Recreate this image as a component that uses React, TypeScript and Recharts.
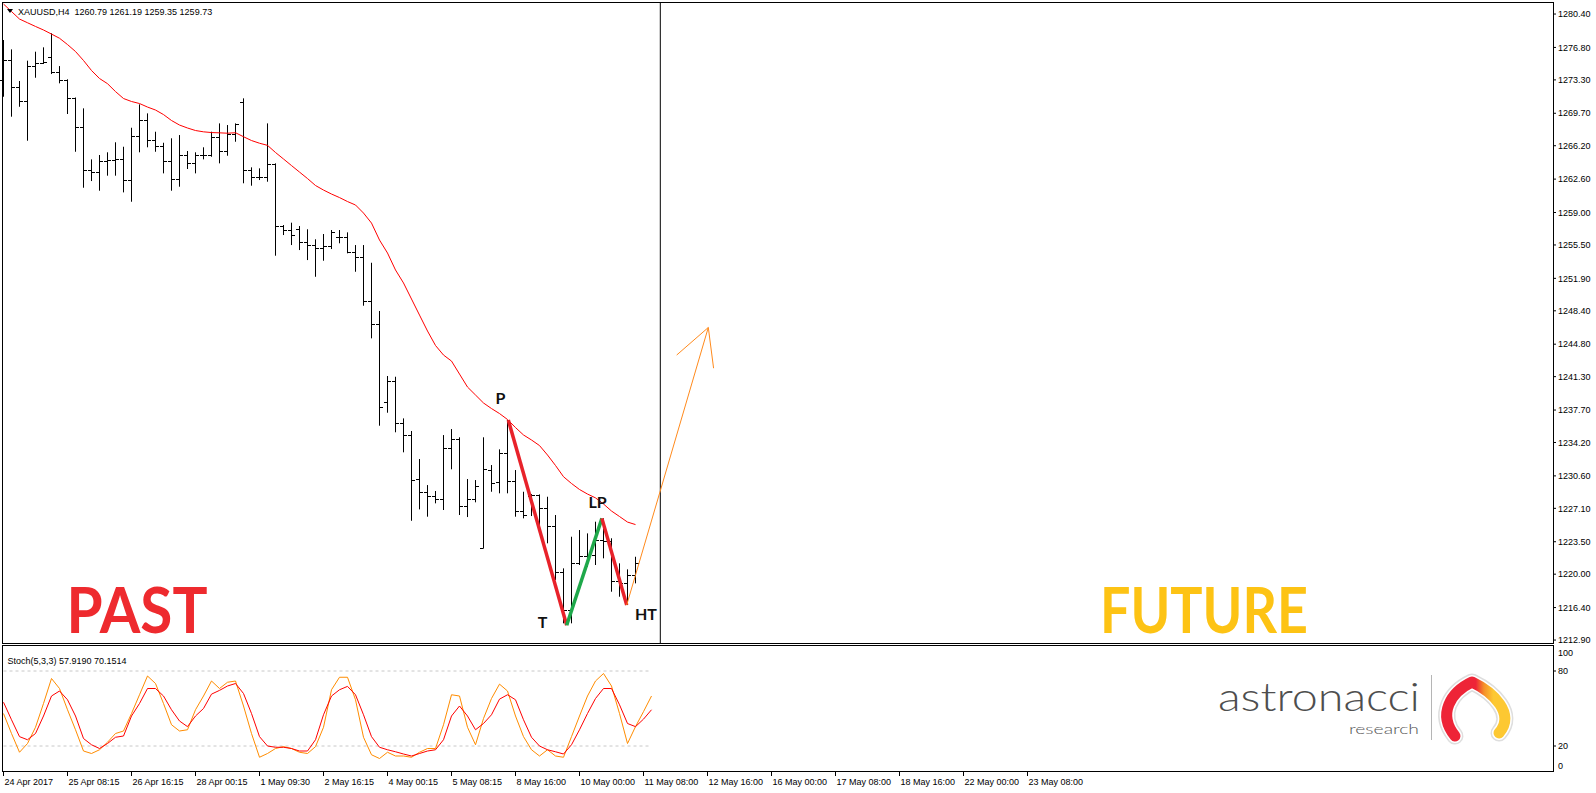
import React from "react";
import {
  ComposedChart,
  Scatter,
  XAxis,
  YAxis,
  ErrorBar,
  ReferenceLine,
} from "recharts";

// ---- data (XAUUSD H4) ----
const opens = [
  1273.28, 1275.44, 1272.5, 1271.02, 1274.79, 1275.08, 1275.73, 1274.07, 1273.28, 1271.31,
  1268.18, 1263.58, 1263.33, 1264.52, 1264.58, 1264.73, 1262.47, 1267.21, 1268.97, 1266.81,
  1266.17, 1264.47, 1262.58, 1265.12, 1264.3, 1265.16, 1265.12, 1267.11, 1265.55, 1267.46,
  1270.88, 1263.58, 1262.79, 1262.82, 1264.19, 1257.54, 1257.11, 1257.19, 1255.78, 1255.49,
  1255.14, 1255.38, 1256.32, 1256.32, 1254.71, 1254.17, 1249.45, 1246.94, 1238.53, 1240.75,
  1236.27, 1234.93, 1230.26, 1228.83, 1228.35, 1228.1, 1233.57, 1234.54, 1227.35, 1228.07,
  1222.82, 1231.23, 1229.86, 1232.96, 1229.97, 1226.74, 1228.43, 1228.5, 1227.03, 1225.19,
  1220.16, 1216.13, 1221.17, 1221.96, 1221.99, 1223.68, 1223.5, 1219.19, 1219.01, 1219.91,
];
const highs = [
  1277.6, 1276.59, 1273.18, 1275.37, 1276.34, 1276.81, 1278.32, 1274.79, 1273.36, 1271.4,
  1270.23, 1264.73, 1265.2, 1265.49, 1266.57, 1266.09, 1268.14, 1270.66, 1269.69, 1267.71,
  1266.52, 1267.0, 1267.35, 1265.63, 1265.49, 1266.03, 1267.71, 1268.61, 1268.43, 1268.61,
  1271.31, 1263.87, 1263.76, 1268.61, 1264.3, 1257.65, 1257.9, 1257.54, 1257.19, 1256.11,
  1256.68, 1257.11, 1257.11, 1256.86, 1255.49, 1255.49, 1253.58, 1248.38, 1241.37, 1241.29,
  1236.8, 1235.44, 1232.42, 1229.61, 1228.97, 1235.0, 1235.65, 1234.76, 1230.26, 1230.15,
  1234.76, 1231.77, 1233.46, 1236.62, 1231.23, 1228.89, 1228.64, 1228.6, 1228.35, 1226.38,
  1220.63, 1224.04, 1224.76, 1224.4, 1225.66, 1226.02, 1223.87, 1221.17, 1220.52, 1221.88,
];
const lows = [
  1271.48, 1269.33, 1270.4, 1266.74, 1273.53, 1275.01, 1273.93, 1272.93, 1269.62, 1265.55,
  1261.67, 1262.39, 1261.35, 1262.97, 1262.97, 1261.17, 1260.16, 1265.49, 1266.03, 1265.55,
  1263.22, 1261.35, 1261.78, 1263.69, 1263.22, 1264.73, 1265.01, 1264.3, 1265.12, 1266.63,
  1262.15, 1261.89, 1262.5, 1262.32, 1254.34, 1256.57, 1255.49, 1254.95, 1253.87, 1252.07,
  1253.8, 1255.06, 1255.68, 1254.6, 1252.61, 1248.95, 1245.43, 1236.01, 1237.41, 1235.3,
  1233.14, 1225.76, 1226.99, 1226.2, 1227.64, 1226.92, 1231.31, 1226.38, 1226.16, 1227.75,
  1222.79, 1228.89, 1228.72, 1228.72, 1226.2, 1226.02, 1226.27, 1224.94, 1223.33, 1219.37,
  1214.7, 1214.7, 1220.99, 1220.8, 1220.99, 1221.71, 1218.11, 1217.57, 1216.67, 1219.01,
];
const closes = [
  1275.44, 1272.5, 1271.02, 1274.79, 1275.08, 1275.15, 1274.07, 1273.28, 1271.31, 1268.18,
  1263.5, 1263.33, 1264.52, 1264.58, 1264.73, 1262.47, 1267.21, 1268.97, 1266.81, 1266.17,
  1264.47, 1262.58, 1265.12, 1264.3, 1265.16, 1265.12, 1267.11, 1265.55, 1267.46, 1268.51,
  1263.58, 1262.79, 1262.82, 1264.19, 1257.54, 1257.11, 1256.54, 1255.78, 1255.42, 1255.14,
  1255.38, 1256.86, 1256.32, 1254.71, 1254.17, 1249.45, 1246.94, 1237.99, 1240.75, 1236.27,
  1234.93, 1230.15, 1228.83, 1228.35, 1228.1, 1233.57, 1234.54, 1227.35, 1228.07, 1229.43,
  1231.31, 1229.8, 1232.96, 1229.97, 1226.74, 1226.38, 1228.5, 1227.03, 1225.19, 1220.16,
  1216.13, 1221.17, 1221.96, 1221.99, 1223.68, 1223.5, 1219.19, 1219.01, 1219.91, 1221.2,
];
// red moving average
const maValues = [
  1281.48, 1280.67, 1279.86, 1279.46, 1279.06, 1278.68, 1278.24, 1277.79, 1277.11, 1276.36,
  1275.39, 1274.31, 1273.45, 1272.89, 1272.04, 1271.29, 1270.97, 1270.75, 1270.37, 1270.05,
  1269.56, 1268.92, 1268.43, 1268.11, 1267.84, 1267.7, 1267.62, 1267.59, 1267.55, 1267.6,
  1267.17, 1266.76, 1266.47, 1266.24, 1265.47, 1264.77, 1264.06, 1263.36, 1262.66, 1261.91,
  1261.42, 1260.99, 1260.61, 1260.18, 1259.81, 1258.94, 1257.86, 1256.03, 1254.63, 1252.8,
  1251.4, 1249.67, 1247.94, 1246.22, 1244.66, 1243.63, 1242.98, 1241.58, 1240.18, 1239.32,
  1238.46, 1237.86, 1237.32, 1236.68, 1235.81, 1235.01, 1234.47, 1233.87, 1232.85, 1231.72,
  1230.51, 1229.78, 1229.13, 1228.64, 1228.23, 1227.57, 1226.81, 1226.22, 1225.62, 1225.35,
];
// Stoch(5,3,3): orange main line, red signal line
const stochMain = [
  46, 30, 15, 22, 35, 54, 74, 66, 49, 33,
  16, 14, 17, 23, 30, 32, 46, 61, 76, 70,
  54, 37, 32, 33, 49, 60, 72, 66, 71, 72,
  52, 30, 11, 14, 18, 19.5, 18, 15, 14, 19.5,
  35, 65, 75, 75, 57, 27, 13, 10, 15, 12,
  12, 11, 15, 18, 18, 37, 61, 60, 35, 21,
  42, 58, 69.5, 64, 44, 27.5, 17, 12, 17, 12,
  11, 27.5, 44, 60, 72, 78, 68, 46, 22, 35.5,
  47.5, 60,
];
const stochSignal = [
  55, 41, 27.5, 25, 30, 44, 60, 64, 57, 44,
  26, 21, 18, 22, 27, 28, 44, 54, 66, 66,
  60, 49, 40, 35.5, 44, 50, 61.5, 64.5, 68, 70,
  62, 46, 27.5, 20, 19, 19, 18, 16, 16, 25,
  45, 60, 65, 67.7, 61, 45, 27.5, 19, 17, 15.4,
  13.6, 12, 14, 16, 17, 25, 44, 52, 44, 33,
  38, 45, 57.5, 61, 57, 41, 27, 20, 17, 15.4,
  13.6, 21, 33, 46, 58, 66, 66, 53, 38, 35.5,
  41.5, 49,
];
const stochLevels = [20, 80];
const priceTicks = [
  1280.4, 1276.8, 1273.3, 1269.7, 1266.2, 1262.6, 1259.0, 1255.5, 1251.9, 1248.4,
  1244.8, 1241.3, 1237.7, 1234.2, 1230.6, 1227.1, 1223.5, 1220.0, 1216.4, 1212.9,
];
const timeLabels = [
  "24 Apr 2017", "25 Apr 08:15", "26 Apr 16:15", "28 Apr 00:15", "1 May 09:30",
  "2 May 16:15", "4 May 00:15", "5 May 08:15", "8 May 16:00", "10 May 00:00",
  "11 May 08:00", "12 May 16:00", "16 May 00:00", "17 May 08:00", "18 May 16:00",
  "22 May 00:00", "23 May 08:00",
];
const barsPerLabel = 8;
// drawn pattern P - T - LP - HT
const patternIdx = [63.1, 70.4, 74.8, 77.9];
const patternPrice = [1236.62, 1214.5, 1226.02, 1216.67];
const forecastIdx = [77.9, 88.1];
const forecastPrice = [1216.67, 1246.6];
const arrowHeadIdx = [84.15, 88.1, 88.76];
const arrowHeadPrice = [1243.63, 1246.6, 1242.21];
const separatorIdx = 82.1;
const levelSpan = [0, 81];

// ---- layout ----
const W = 1596;
const H = 793;
const AXIS_W = 43;
const BAR_PX = 8;
const FIRST_BAR_PX = 3.5;
const PLOT_RIGHT = W - AXIS_W;
const xDomain: [number, number] = [-FIRST_BAR_PX / BAR_PX, (PLOT_RIGHT - FIRST_BAR_PX) / BAR_PX];
const priceDomain: [number, number] = [1212.58, 1281.59];
const SMALL = "'Liberation Sans', Arial, sans-serif";
const ROUND = "Lato, 'Noto Sans', sans-serif";

const hlData = opens.map((_, i) => ({ x: i, y: lows[i], range: [0, highs[i] - lows[i]] }));
const openData = opens.map((v, i) => ({ x: i, y: v }));
const closeData = closes.map((v, i) => ({ x: i, y: v }));
const maData = maValues.map((v, i) => ({ x: i, y: v }));
const pts = (xs: number[], ys: number[]) => xs.map((x, i) => ({ x, y: ys[i] }));
const legPT = pts(patternIdx.slice(0, 2), patternPrice.slice(0, 2));
const legTLP = pts(patternIdx.slice(1, 3), patternPrice.slice(1, 3));
const legLPHT = pts(patternIdx.slice(2, 4), patternPrice.slice(2, 4));
const forecastData = pts(forecastIdx, forecastPrice);
const arrowHeadData = pts(arrowHeadIdx, arrowHeadPrice);
const kData = stochMain.map((v, i) => ({ x: i, y: v }));
const dData = stochSignal.map((v, i) => ({ x: i, y: v }));
const timeTicks = timeLabels.map((_, i) => i * barsPerLabel);

const nothing = () => <g />;
const snap = (v: number) => Math.round(v - 0.5) + 0.5;

const OpenTick = (p: any) => {
  const y = snap(p.cy);
  return <line x1={p.cx - 3.5} x2={p.cx} y1={y} y2={y} stroke="#000" strokeWidth={1} />;
};
const CloseTick = (p: any) => {
  const y = snap(p.cy);
  return <line x1={p.cx} x2={p.cx + 3.5} y1={y} y2={y} stroke="#000" strokeWidth={1} />;
};

const TimeTick = (p: any) => {
  const { x, y, payload } = p;
  const label = timeLabels[Math.round(payload.value / barsPerLabel)];
  return (
    <g>
      <line x1={x} x2={x} y1={y + 1} y2={y + 5} stroke="#000" />
      <text x={x + 1} y={y + 13.5} fontSize={9} fontFamily={SMALL} fill="#000">
        {label}
      </text>
    </g>
  );
};

const StochTick = (p: any) => {
  const { x, y, payload } = p;
  const v = payload.value;
  const shift = v === 100 ? 6.7 : v === 0 ? -5 : 0;
  return (
    <g>
      {shift === 0 && <line x1={x} x2={x + 3} y1={y} y2={y} stroke="#000" />}
      <text x={x + 5} y={y + shift} dy="0.35em" fontSize={9} fontFamily={SMALL} fill="#000">
        {v}
      </text>
    </g>
  );
};

const lineSeries = (data: any[], stroke: string, width = 1) => (
  <Scatter
    data={data}
    line={{ stroke, strokeWidth: width, strokeLinejoin: "round" }}
    lineType="joint"
    shape={nothing}
    fill={stroke}
    isAnimationActive={false}
  />
);

const LOGO_PATH = "M1455,736 C1437,714 1451,692 1472,682 C1493,692 1516,714 1499,733";

export default function App() {
  return (
    <div style={{ position: "absolute", left: 0, top: 0, width: W, height: H, background: "#fff", overflow: "hidden" }}>
      <div style={{ position: "absolute", left: 0, top: 0 }}>
        <ComposedChart width={W} height={646} margin={{ top: 3, right: 0, bottom: 3, left: 0 }}>
          <XAxis type="number" dataKey="x" domain={xDomain} hide allowDataOverflow />
          <YAxis
            type="number"
            dataKey="y"
            orientation="right"
            domain={priceDomain}
            ticks={priceTicks}
            interval={0}
            allowDataOverflow
            width={AXIS_W}
            axisLine={false}
            tickSize={3}
            tickMargin={2}
            tickLine={{ stroke: "#000" }}
            tick={{ fontSize: 9, fontFamily: SMALL, fill: "#000" }}
            tickFormatter={(v: number) => v.toFixed(2)}
          />
          <Scatter data={hlData} shape={nothing} isAnimationActive={false}>
            <ErrorBar dataKey="range" direction="y" width={0} stroke="#000" strokeWidth={1} isAnimationActive={false} />
          </Scatter>
          <Scatter data={openData} shape={OpenTick} isAnimationActive={false} />
          <Scatter data={closeData} shape={CloseTick} isAnimationActive={false} />
          {lineSeries(maData, "#ff0000")}
          {lineSeries(legPT, "#e8222a", 3.5)}
          {lineSeries(legTLP, "#1ea84a", 3.5)}
          {lineSeries(legLPHT, "#e8222a", 3.5)}
          {lineSeries(forecastData, "#ff8a1c")}
          {lineSeries(arrowHeadData, "#ff8a1c")}
          <ReferenceLine x={separatorIdx} stroke="#000" strokeWidth={1} />
        </ComposedChart>
      </div>

      <div style={{ position: "absolute", left: 0, top: 644 }}>
        <ComposedChart width={W} height={149} margin={{ top: 2, right: 0, bottom: 0, left: 0 }}>
          <XAxis
            type="number"
            dataKey="x"
            domain={xDomain}
            allowDataOverflow
            ticks={timeTicks}
            interval={0}
            height={22}
            axisLine={false}
            tickLine={false}
            tickSize={0}
            tickMargin={0}
            tick={<TimeTick />}
          />
          <YAxis
            type="number"
            dataKey="y"
            orientation="right"
            domain={[0, 100]}
            ticks={[0, 20, 80, 100]}
            interval={0}
            width={AXIS_W}
            axisLine={false}
            tickLine={false}
            tickSize={0}
            tickMargin={0}
            tick={<StochTick />}
          />
          {stochLevels.map((lv) => (
            <Scatter
              key={lv}
              data={levelSpan.map((x) => ({ x, y: lv }))}
              line={{ stroke: "#c8c8c8", strokeWidth: 1, strokeDasharray: "3 3" }}
              lineType="joint"
              shape={nothing}
              isAnimationActive={false}
            />
          ))}
          {lineSeries(kData, "#ff8c00")}
          {lineSeries(dData, "#ff0000")}
        </ComposedChart>
      </div>

      <svg width={W} height={H} style={{ position: "absolute", left: 0, top: 0, pointerEvents: "none" }}>
        <defs>
          <linearGradient id="logoGrad" x1="0" y1="0" x2="1" y2="0">
            <stop offset="0" stopColor="#ee2437" />
            <stop offset="0.5" stopColor="#ee2437" />
            <stop offset="0.64" stopColor="#f5902a" />
            <stop offset="0.8" stopColor="#fdc832" />
            <stop offset="1" stopColor="#fdc832" />
          </linearGradient>
        </defs>
        {/* panel frames */}
        <rect x={2.5} y={2.5} width={PLOT_RIGHT - 2} height={641} fill="none" stroke="#000" />
        <rect x={2.5} y={645.5} width={PLOT_RIGHT - 2} height={126} fill="none" stroke="#000" />

        <path d="M7,9 L13,9 L10,13 Z" fill="#000" />
        <text x={18} y={14.5} fontSize={9} fontFamily={SMALL} fill="#000" style={{ whiteSpace: "pre" }}>
          {"XAUUSD,H4  1260.79 1261.19 1259.35 1259.73"}
        </text>
        <text x={7.5} y={664} fontSize={9} fontFamily={SMALL} fill="#000">
          Stoch(5,3,3) 57.9190 70.1514
        </text>

        <text x={66.5} y={632.5} fontSize={64} fontWeight={700} fontFamily={ROUND} fill="#ee2a2e" textLength={141} lengthAdjust="spacingAndGlyphs">
          PAST
        </text>
        <text x={1100} y={632.5} fontSize={64} fontWeight={700} fontFamily={ROUND} fill="#fdc314" textLength={208} lengthAdjust="spacingAndGlyphs">
          FUTURE
        </text>

        <g fontFamily={ROUND} fontWeight={700} fontSize={16} fill="#111" textAnchor="middle">
          <text x={500.5} y={403.5}>P</text>
          <text x={542.5} y={628}>T</text>
          <text x={597.5} y={507.5}>LP</text>
          <text x={646} y={619.5}>HT</text>
        </g>

        {/* logo */}
        <text x={1218} y={711} fontSize={39} fontWeight={300} fontFamily={ROUND} fill="#4e4e4e" textLength={202} lengthAdjust="spacingAndGlyphs">
          astronacci
        </text>
        <text x={1349} y={734} fontSize={14.5} fontWeight={300} fontFamily={ROUND} fill="#555" textLength={70} lengthAdjust="spacingAndGlyphs">
          research
        </text>
        <line x1={1431.5} x2={1431.5} y1={675} y2={740} stroke="#b5b5b5" />
        <path d={LOGO_PATH} fill="none" stroke="#dedede" strokeWidth={17} strokeLinecap="round" strokeLinejoin="round" />
        <path d={LOGO_PATH} fill="none" stroke="#fff" strokeWidth={14} strokeLinecap="round" strokeLinejoin="round" />
        <path d={LOGO_PATH} fill="none" stroke="url(#logoGrad)" strokeWidth={11} strokeLinecap="round" strokeLinejoin="round" />
      </svg>
    </div>
  );
}
